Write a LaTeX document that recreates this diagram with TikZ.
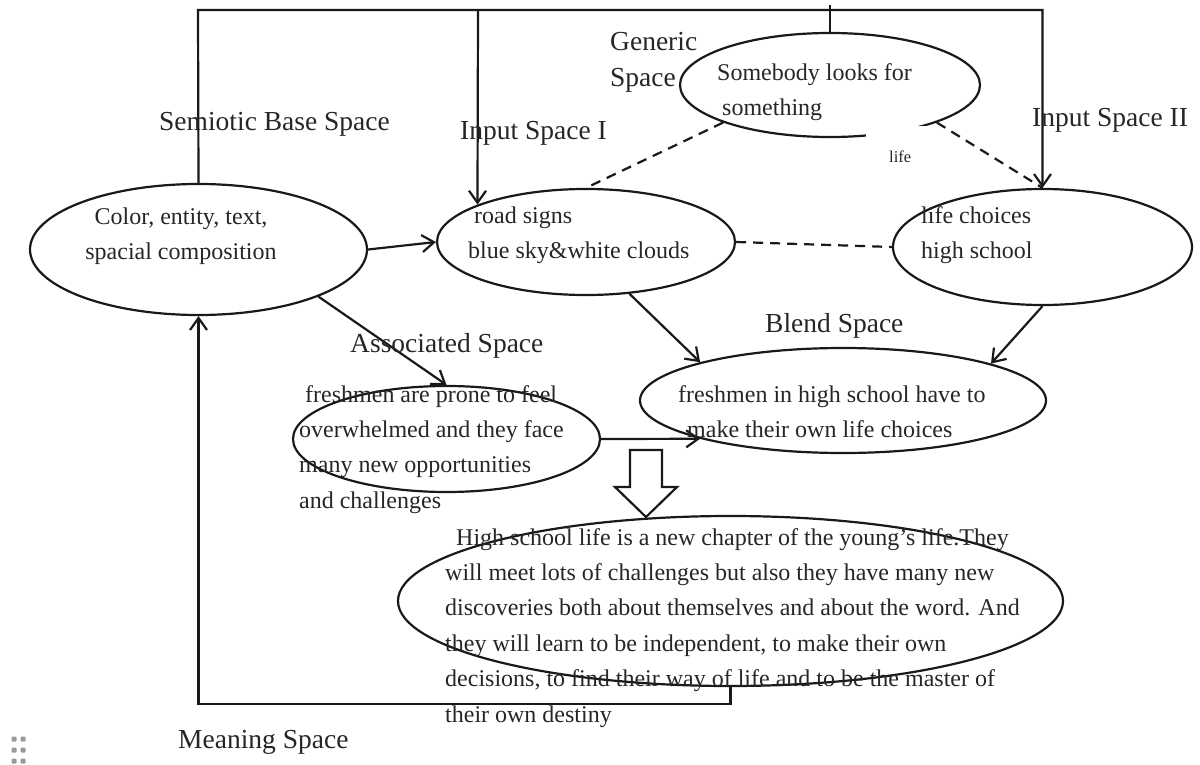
\documentclass[tikz,border=0pt]{standalone}
\usepackage{fontspec}
\setmainfont{Liberation Serif}
\usetikzlibrary{shapes.geometric, arrows.meta}
\definecolor{ink}{RGB}{25,25,25}
\definecolor{inktext}{RGB}{38,38,38}

\begin{document}
\begin{tikzpicture}[x=1pt, y=-1pt,
  wire/.style={line width=2.2pt, draw=ink},
  arr/.style={wire, -{Straight Barb[length=12pt, width=17pt]}},
  dashline/.style={wire, dash pattern=on 10pt off 7pt},
  blob/.style={ellipse, draw=ink, line width=2.2pt, inner sep=0pt},
  caption/.style={font=\fontsize{27.5}{36}\selectfont, text=inktext, inner sep=0pt, anchor=base west},
  body/.style={font=\fontsize{24}{35.4}\selectfont, text=inktext, inner sep=0pt, align=left, anchor=north west}]

\useasboundingbox (0,0) rectangle (1200,765);

% spaces of the network
\node[blob, minimum width=337pt, minimum height=131pt] (sem)   at (198.5,249.5) {};
\node[blob, minimum width=298pt, minimum height=106pt] (in1)   at (586,242) {};
\node[blob, minimum width=299pt, minimum height=116pt] (in2)   at (1042.5,247) {};
\node[blob, minimum width=300pt, minimum height=104pt] (gen)   at (830,85) {};
\node[blob, minimum width=406pt, minimum height=105pt] (blend) at (843,400.5) {};
\node[blob, minimum width=307pt, minimum height=106pt] (assoc) at (446.5,439) {};
\node[blob, minimum width=665pt, minimum height=170pt] (mean)  at (730.5,601) {};

% frame along the top
\coordinate (top)  at (198,10);
\coordinate (fork) at (478,10);
\coordinate (gtop) at (830,5);
\draw[arr] (sem.north) -- (top) -| (in2.north);
\draw[arr] (fork) -- (in1.161.3);
\draw[wire] (gen.north) -- (gtop);

% generic space mappings
\draw[dashline] (gen.south west) -- (in1.north);
\draw[dashline] (gen.south east) -- (in2.north);
\draw[dashline] (in1.east) -- (in2.west);

% projections
\draw[arr] (sem.east) -- (in1.west);
\draw[arr] (sem.south east) -- (assoc.north);
\draw[arr] (in1.-50.5) -- (blend.165.7);
\draw[arr] (in2.south) -- (blend.14);
\draw[arr] (assoc.east) -- (blend.195.2);
\draw[arr] (mean.south) -- ++(0,17) -| (sem.south);

% hollow arrow from blend to meaning
\draw[wire, line join=miter] (630,450) -- (662,450) -- (662,487) -- (677,487)
  -- (646,517) -- (615,487) -- (630,487) -- cycle;

% white text box under the generic space
\node[fill=white, minimum width=62pt, minimum height=52pt, inner sep=0pt, anchor=north west] (lifebox) at (866,126) {};
\node[font=\fontsize{16.5}{20}\selectfont, text=inktext, inner sep=0pt, anchor=base west] (lifet) at (889,163) {life};

% space labels
\node[caption] (semL)   at (159,131) {Semiotic Base Space};
\node[caption] (in1L)   at (460,140) {Input Space I};
\node[caption] (in2L)   at (1032,127) {Input Space II};
\node[caption, align=left, anchor=north west] (genL) at (610,24.8) {\strut Generic\\Space};
\node[caption] (blendL) at (765,332) {Blend Space};
\node[caption] (assocL) at (350,352) {Associated Space};
\node[caption] (meanL)  at (178,748) {Meaning Space};

% contents of the spaces
\node[body, align=center, anchor=north] (semT) at (181,199.2) {\strut Color, entity, text,\\spacial composition};
\node[body] (in1T) at (468,198.2) {\strut\hspace*{6pt}road signs\\blue sky\&white clouds};
\node[body] (in2T) at (921,198.2) {\strut life choices\\high school};
\node[body] (genT) at (717,55.2) {\strut Somebody looks for\\\hspace*{5pt}something};
\node[body] (blendT) at (678,377.2) {\strut freshmen in high school have to\\\hspace*{9pt}make their own life choices};
\node[body] (assocT) at (299,377.2) {\strut\hspace*{6pt}freshmen are prone to feel\\overwhelmed and they face\\many new opportunities\\and challenges};
\node[body] (meanT) at (445,520.2) {\strut\hspace*{11pt}High school life is a new chapter of the young’s life.They\\will meet lots of challenges but also they have many new\\discoveries both about themselves and about the word. And\\they will learn to be independent, to make their own\\decisions, to find their way of life and to be the master of\\their own destiny};

% handle dots in the corner
\foreach \dx in {14,23} {
  \foreach \dy in {739,750,761} {
    \fill[gray!80, rounded corners=1pt] (\dx-2.5,\dy-2.5) rectangle (\dx+2.5,\dy+2.5);
  }
}
\end{tikzpicture}
\end{document}
